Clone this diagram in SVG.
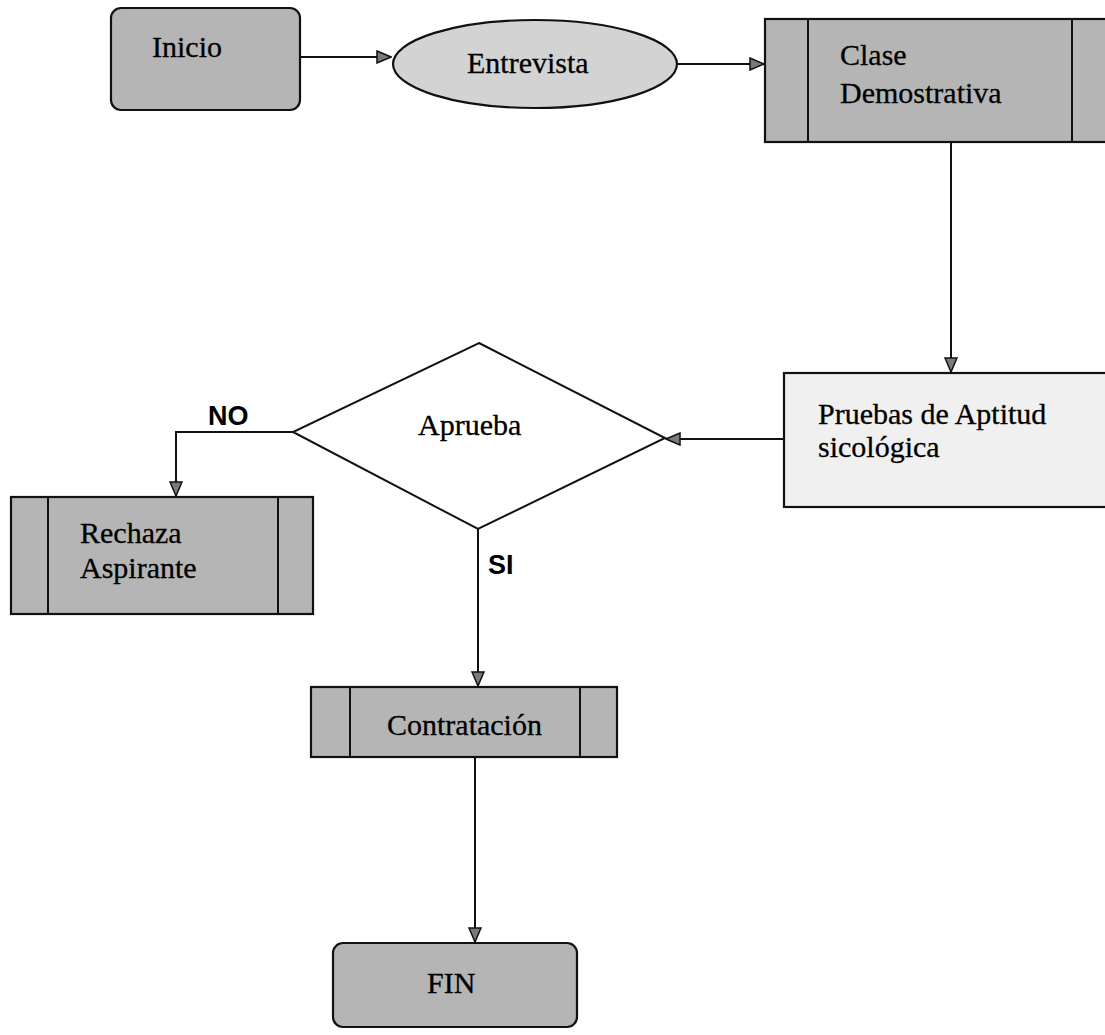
<svg xmlns="http://www.w3.org/2000/svg" width="1105" height="1035" viewBox="0 0 1105 1035">
  <style>
    .lbl { font-family: "Liberation Serif", "Times New Roman", serif; font-size: 30px; fill: #000; stroke: #000; stroke-width: 0.3; }
    .tag { font-family: "Liberation Sans", Arial, sans-serif; font-size: 27px; font-weight: bold; fill: #000; }
    .box { fill: #b5b5b5; stroke: #111; stroke-width: 2.2; }
    .div { stroke: #111; stroke-width: 2; fill: none; }
    .edge { stroke: #111; stroke-width: 2; fill: none; marker-end: url(#arrow); }
  </style>
  <defs>
    <marker id="arrow" markerWidth="16" markerHeight="14" refX="15" refY="7" orient="auto" markerUnits="userSpaceOnUse">
      <path d="M1,1 L15,7 L1,13 Z" fill="#7a7a7a" stroke="#111" stroke-width="1.5"/>
    </marker>
  </defs>
  <rect width="1105" height="1035" fill="#ffffff"/>

  <!-- connectors -->
  <g id="connectors">
    <path class="edge" d="M300,57 L391,57"/>
    <path class="edge" d="M677,64 L764,64"/>
    <path class="edge" d="M951,143 L951,372"/>
    <path class="edge" d="M784,439 L666,439"/>
    <path class="edge" d="M293,432 L176,432 L176,496"/>
    <path class="edge" d="M478,529 L478,686"/>
    <path class="edge" d="M475,757 L475,942"/>
  </g>

  <!-- start -->
  <g id="inicio">
    <rect class="box" x="111" y="8" width="189" height="102" rx="10"/>
    <text class="lbl" x="152" y="57">Inicio</text>
  </g>

  <!-- interview -->
  <g id="entrevista">
    <ellipse cx="535" cy="64" rx="142" ry="44" fill="#d3d3d3" stroke="#111" stroke-width="2.2"/>
    <text class="lbl" x="467" y="73">Entrevista</text>
  </g>

  <!-- demo class (predefined process) -->
  <g id="clase">
    <rect class="box" x="765" y="19" width="360" height="123"/>
    <line class="div" x1="808" y1="19" x2="808" y2="142"/>
    <line class="div" x1="1072" y1="19" x2="1072" y2="142"/>
    <text class="lbl" x="840" y="65">Clase</text>
    <text class="lbl" x="840" y="103">Demostrativa</text>
  </g>

  <!-- aptitude tests -->
  <g id="pruebas">
    <rect x="784" y="373" width="340" height="134" fill="#f0f0f0" stroke="#111" stroke-width="2.2"/>
    <text class="lbl" x="818" y="424" font-size="29">Pruebas de Aptitud</text>
    <text class="lbl" x="818" y="457" font-size="29">sicológica</text>
  </g>

  <!-- decision -->
  <g id="aprueba">
    <polygon points="479,343 665,438 478,529 293,432" fill="#ffffff" stroke="#111" stroke-width="2"/>
    <text class="lbl" x="418" y="435">Aprueba</text>
  </g>

  <!-- branch labels -->
  <g id="labels">
    <text class="tag" x="208" y="425">NO</text>
    <text class="tag" x="488" y="574">SI</text>
  </g>

  <!-- reject -->
  <g id="rechaza">
    <rect class="box" x="11" y="497" width="302" height="117"/>
    <line class="div" x1="48" y1="497" x2="48" y2="614"/>
    <line class="div" x1="278" y1="497" x2="278" y2="614"/>
    <text class="lbl" x="80" y="543">Rechaza</text>
    <text class="lbl" x="80" y="578">Aspirante</text>
  </g>

  <!-- hiring -->
  <g id="contratacion">
    <rect class="box" x="311" y="687" width="306" height="70"/>
    <line class="div" x1="350" y1="687" x2="350" y2="757"/>
    <line class="div" x1="580" y1="687" x2="580" y2="757"/>
    <text class="lbl" x="387" y="735">Contratación</text>
  </g>

  <!-- end -->
  <g id="fin">
    <rect class="box" x="333" y="943" width="244" height="84" rx="10"/>
    <text class="lbl" x="427" y="993">FIN</text>
  </g>
</svg>
